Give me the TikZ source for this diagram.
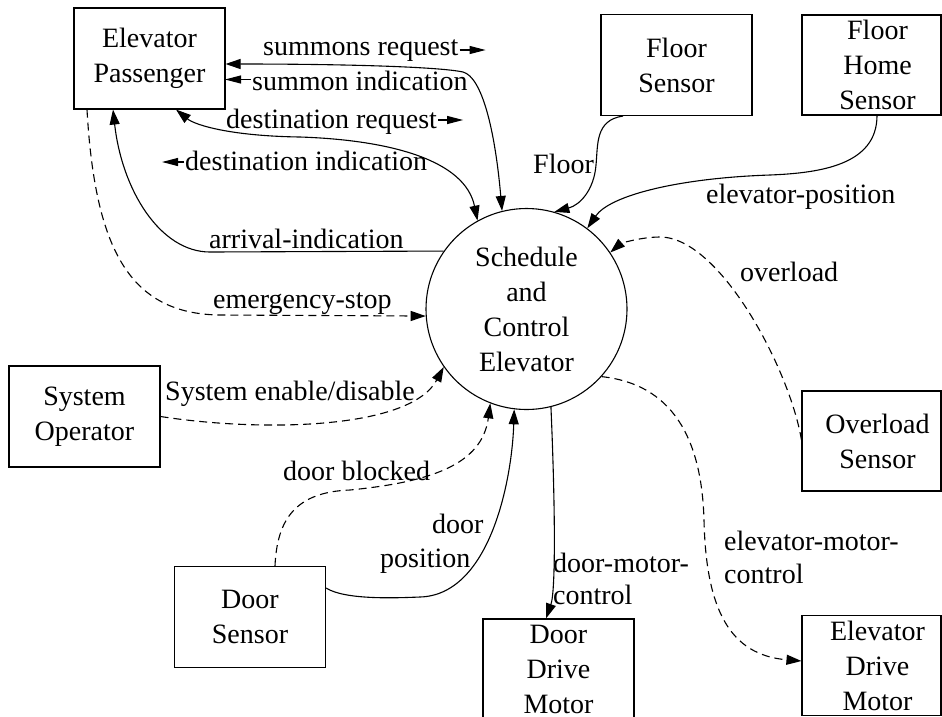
\documentclass[tikz,border=0pt]{standalone}
\usepackage{fontspec}
\setmainfont{Liberation Serif}
\usetikzlibrary{arrows.meta,calc}
\newcommand{\padl}{\hspace*{12pt}}
\begin{document}
\begin{tikzpicture}[x=1pt,y=-1pt,
  every node/.style={font=\fontsize{28}{35}\selectfont},
  flow/.style={line width=1.1pt},
  ctl/.style={flow,dash pattern=on 8pt off 5pt},
  tip/.style={-{Triangle[length=15pt,width=10pt]}},
  both/.style={{Triangle[length=15pt,width=10pt]}-{Triangle[length=15pt,width=10pt]}},
  dirtip/.style={line width=1.1pt,-{Triangle[length=16pt,width=8pt]}},
  entity/.style={draw,line width=1.1pt,minimum width=151pt,minimum height=101pt,inner sep=0pt,align=center},
  edgebox/.style={draw,line width=1.1pt,minimum width=139pt,minimum height=100pt,inner sep=0pt,align=center},
  lbl/.style={inner sep=0pt,anchor=base west}]
\useasboundingbox (0,0) rectangle (942,716);
\clip (0,0) rectangle (942,716);

% process
\node[draw,circle,line width=1.1pt,minimum size=201pt,inner sep=0pt,align=center] (sc) at (526.5,309)
  {Schedule\\and\\Control\\Elevator};

% external entities
\node[entity] (ep) at (149.5,58.5) {Elevator\\Passenger};
\node[entity] (fs) at (676.5,65) {Floor\\Sensor};
\node[edgebox] (fhs) at (871.5,65) {\padl Floor\\\padl Home\\\padl Sensor};
\node[entity] (so) at (84.5,416.5) {System\\Operator};
\node[edgebox] (os) at (871.5,441) {\padl Overload\\\padl Sensor};
\node[entity] (ds) at (250,617) {Door\\Sensor};
\node[entity] (ddm) at (558.5,669.5) {Door\\Drive\\Motor};
\node[edgebox] (edm) at (871.5,665.5) {\padl Elevator\\\padl Drive\\\padl Motor};

% flows
\draw[flow,both] ($(ep.east)+(0,5.5)$) .. controls (350,64) and (440,67) .. (463,72)
  .. controls (482,77) and (495,130) .. (sc.104.7);
\draw[flow,both] ($(ep.south)+(26.5,0)$) .. controls (195,125) and (230,136) .. (300,137)
  .. controls (390,140) and (465,160) .. (sc.119.2);
\draw[flow,tip] (sc.145.5) -- (210,252) .. controls (160,252) and (122,190) .. ($(ep.south)+(-36.5,0)$);
\draw[ctl,tip] ($(ep.south)+(-62.5,0)$) .. controls (95,250) and (130,314) .. (220,315) -- (sc.184);
\draw[ctl,tip] (so.east) .. controls (260,432) and (410,430) .. (sc.215.2);
\draw[ctl,tip] ($(ds.north)+(25,0)$) .. controls (277,520) and (295,492) .. (350,490)
  .. controls (430,482) and (482,465) .. (sc.249.6);
\draw[flow,tip] ($(ds.east)+(0,-29)$) .. controls (345,600) and (395,598) .. (420,597)
  .. controls (490,595) and (512,480) .. (sc.263.6);
\draw[flow,tip] (sc.284.6) .. controls (555,500) and (556,590) .. ($(ddm.north)+(-12.5,0)$);
\draw[ctl,tip] (sc.318.4) .. controls (680,385) and (702,450) .. (704,520)
  .. controls (706,610) and (730,655) .. ($(edm.west)+(0,-4.5)$);
\draw[ctl,tip] ($(os.west)+(0,-1)$) .. controls (790,370) and (720,237) .. (660,237)
  .. controls (640,237) and (620,244) .. (sc.34.3);
\draw[flow,tip] ($(fs.south)+(-53.5,0)$) .. controls (595,120) and (598,145) .. (596,165)
  .. controls (594,190) and (580,205) .. (sc.74.6);
\draw[flow,tip] ($(fhs.south)+(5.5,0)$) .. controls (877,165) and (820,173) .. (770,175)
  .. controls (680,178) and (610,195) .. (sc.53.6);

% flow labels
\node[lbl] (lsr) at (263,55) {summons request};
\draw[dirtip] ($(lsr.base east)+(1,-5)$) -- ++(26,0);
\node[lbl] (lsi) at (252,90) {summon indication};
\draw[dirtip] ($(lsi.base west)+(-1,-10.5)$) -- ++(-26,0);
\node[lbl] (ldr) at (226,128) {destination request};
\draw[dirtip] ($(ldr.base east)+(1,-8)$) -- ++(25,0);
\node[lbl] (ldi) at (185,170) {destination indication};
\draw[dirtip] ($(ldi.base west)+(-1,-8)$) -- ++(-22,0);
\node[lbl] (lai) at (209,248) {arrival-indication};
\node[lbl] (les) at (213,308) {emergency-stop};
\node[lbl] (lsed) at (165,400) {System enable/disable};
\node[lbl] (ldb) at (283,480) {door blocked};
\node[lbl] (ldp1) at (432,533) {door};
\node[lbl] (ldp2) at (380,567) {position};
\node[lbl] (ldm1) at (553,572) {door-motor-};
\node[lbl] (ldm2) at (553,604) {control};
\node[lbl] (lem1) at (724,550) {elevator-motor-};
\node[lbl] (lem2) at (724,583) {control};
\node[lbl] (lfl) at (533,173) {Floor};
\node[lbl] (lep) at (706,203) {elevator-position};
\node[lbl] (lov) at (740,281) {overload};
\end{tikzpicture}
\end{document}
